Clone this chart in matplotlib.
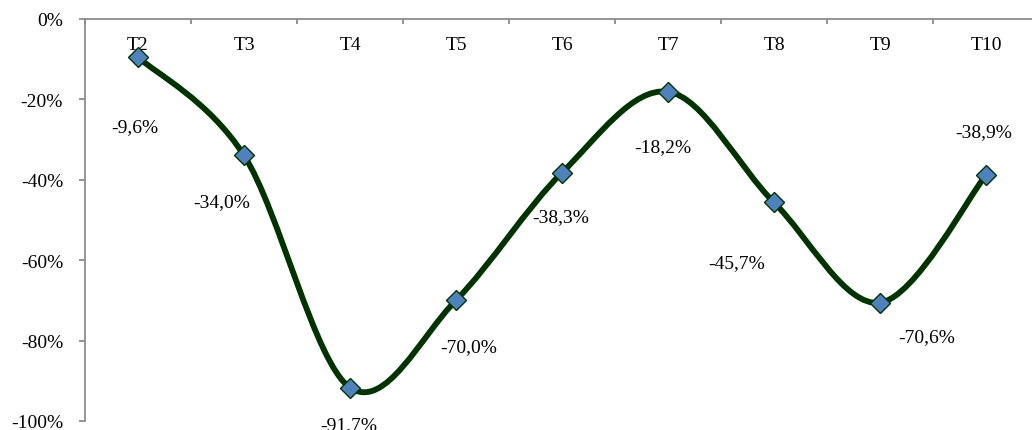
import matplotlib

matplotlib.use("Agg")
import matplotlib.pyplot as plt
from matplotlib.path import Path
from matplotlib.patches import PathPatch
import numpy as np

categories = ["T2", "T3", "T4", "T5", "T6", "T7", "T8", "T9", "T10"]
values = [-9.6, -34.0, -91.7, -70.0, -38.3, -18.2, -45.7, -70.6, -38.9]
# label offsets in pixels from each marker
label_dx = [-3, -22, -1, 13, -1, -5, -37, 47, -2]
label_dy = [-69, -46, -37, -46, -44, -55, -60, -34, 43]

LINE = "#013300"
MARKER = "#4f81bd"
AXIS = "#8c8c8c"

plt.rcParams["font.family"] = ["Liberation Serif", "DejaVu Serif"]
plt.rcParams["font.size"] = 14

fig = plt.figure(figsize=(10.32, 4.31), dpi=100)
ax = fig.add_axes([85 / 1032, 9 / 431, 954 / 1032, 402.5 / 431])

x = np.arange(len(values), dtype=float)
y = np.array(values)

# smoothed line: Catmull-Rom segments as cubic Beziers
pts = np.column_stack([x, y])
ext = np.vstack([pts[0], pts, pts[-1]])
verts = [tuple(pts[0])]
codes = [Path.MOVETO]
for i in range(len(pts) - 1):
    p0, p1, p2, p3 = ext[i], ext[i + 1], ext[i + 2], ext[i + 3]
    c1 = p1 + (p2 - p0) / 6
    c2 = p2 - (p3 - p1) / 6
    verts += [tuple(c1), tuple(c2), tuple(p2)]
    codes += [Path.CURVE4] * 3
ax.add_patch(PathPatch(Path(verts, codes), facecolor="none", edgecolor=LINE,
                       lw=4.2, capstyle="round", zorder=2))

ax.plot(x, y, linestyle="none", marker="D", markersize=10.5,
        markerfacecolor=MARKER, markeredgecolor=LINE, markeredgewidth=1.0,
        zorder=3)

for xi, yi, v, dx, dy in zip(x, y, values, label_dx, label_dy):
    ax.annotate(f"{v:.1f}%".replace(".", ","), (xi, yi),
                xytext=(dx, dy), textcoords="offset pixels",
                ha="center", va="center", fontsize=14, color="black")

ax.set_xlim(-0.5, len(values) - 0.5)
ax.set_ylim(-100, 0)

for side in ("top", "right"):
    ax.spines[side].set_visible(False)
ax.spines["bottom"].set_position(("data", 0))
for side in ("bottom", "left"):
    ax.spines[side].set_color(AXIS)
    ax.spines[side].set_linewidth(1.3)

ax.set_xticks(x)
ax.set_xticklabels(categories)
ax.set_xticks(np.arange(-0.5, len(values), 1.0), minor=True)
ax.tick_params(axis="x", which="major", length=0, pad=12.5, labelsize=14)
ax.tick_params(axis="x", which="minor", direction="out", length=3.6,
               color=AXIS, width=1.3)

yt = np.arange(-100, 1, 20)
ax.set_yticks(yt)
ax.set_yticklabels([f"{v}%" for v in yt])
ax.tick_params(axis="y", direction="out", length=4.3, color=AXIS, width=1.3,
               pad=11.5, labelsize=14)

fig.savefig("out.png", dpi=100)
